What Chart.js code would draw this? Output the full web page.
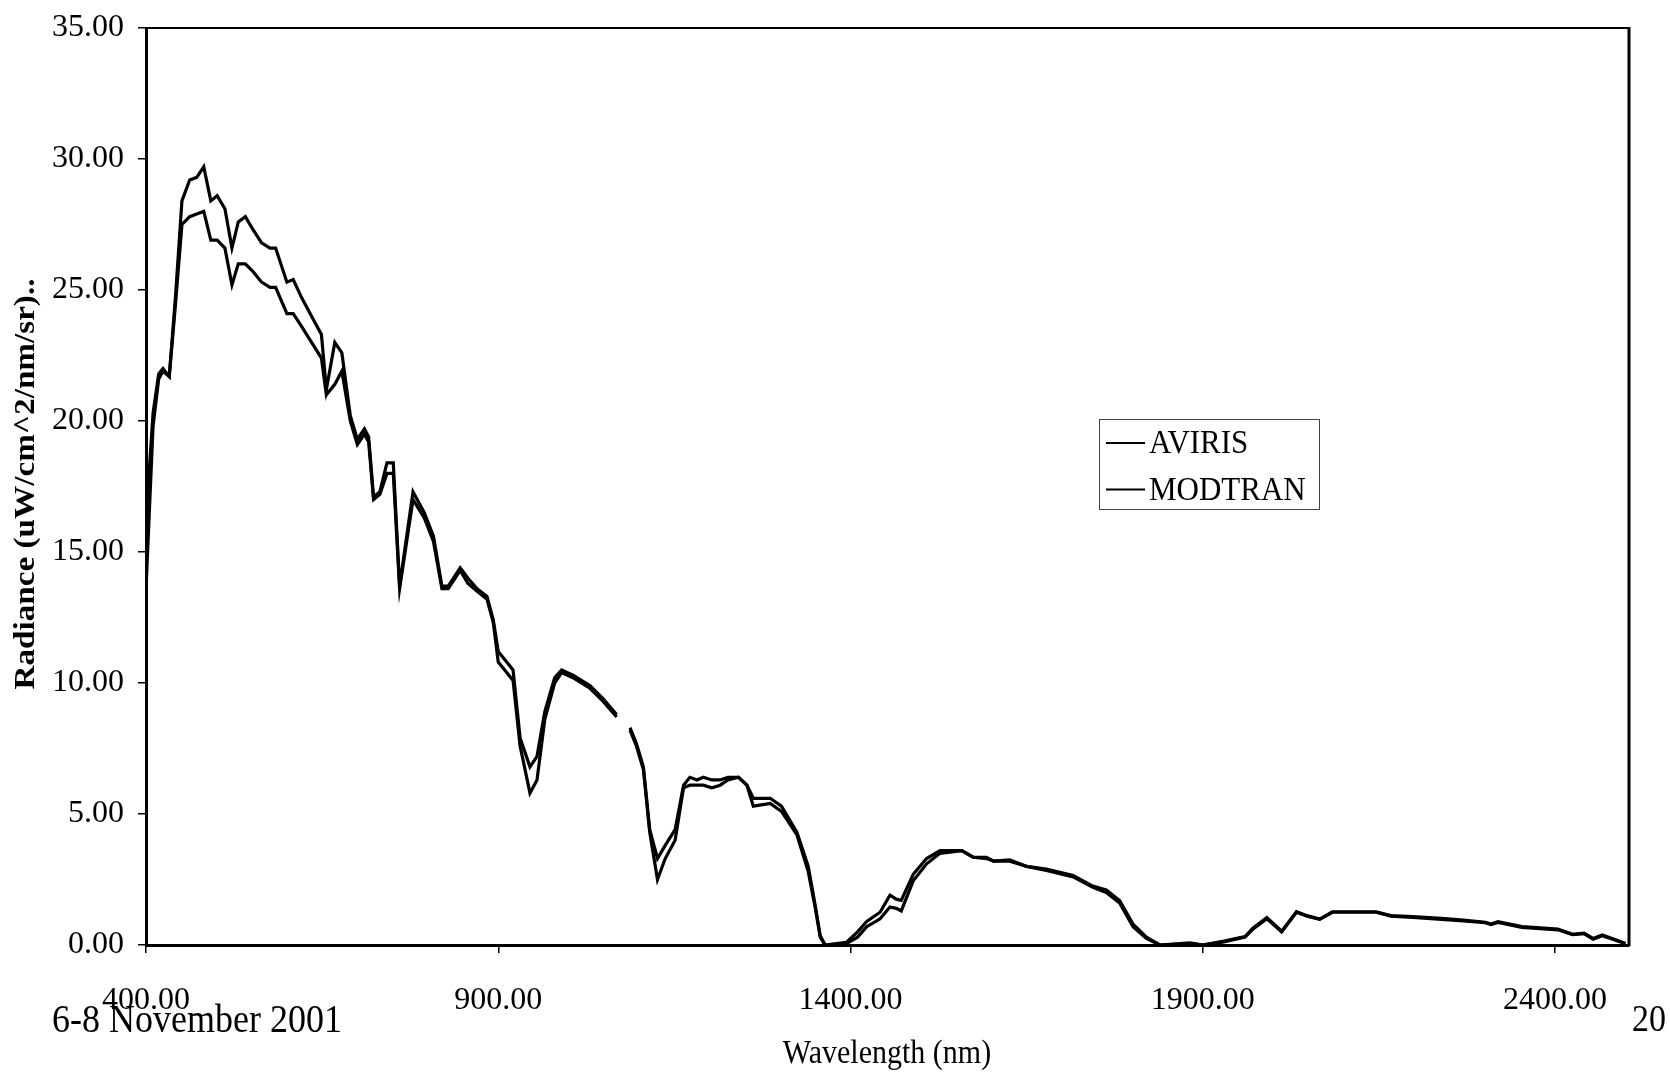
<!DOCTYPE html>
<html>
<head>
<meta charset="utf-8">
<script src="https://cdn.jsdelivr.net/npm/chart.js@4.4.1/dist/chart.umd.min.js"></script>
<style>
  html, body { margin: 0; padding: 0; background: #fff; }
  #wrap { width: 1670px; height: 1073px; position: relative; }
  canvas { display: block; }
</style>
</head>
<body>
<div id="wrap"><canvas id="chart" width="1670" height="1073"></canvas></div>
<script>
// Wavelength samples (nm) shared by both spectra
const wavelength = [400,410,418,424,433,442,451,462,472,482,492,501,512,522,531,541,552,564,576,584,600,609,621,635,649,656,668,678,690,700,710,716,723,732,742,751,760,779,795,808,820,829,846,857,870,884,893,900,912,921,931,945,955,966,980,990,1006,1030,1049,1068,1078,1087,1096,1106,1115,1126,1137,1151,1163,1172,1182,1191,1203,1215,1226,1241,1253,1262,1286,1302,1324,1340,1350,1357,1364,1380,1394,1410,1423,1442,1456,1465,1472,1489,1508,1527,1558,1574,1593,1603,1626,1650,1678,1716,1744,1763,1782,1801,1820,1839,1882,1900,1930,1960,1971,1991,2012,2033,2048,2066,2084,2146,2167,2198,2239,2270,2301,2309,2319,2353,2404,2425,2441,2454,2467,2487,2500];

// Radiance, uW/cm^2/nm/sr (null = no data)
const aviris = [16.2,20.3,21.8,22.0,21.7,24.8,28.4,29.2,29.3,29.7,28.4,28.6,28.1,26.6,27.6,27.8,27.3,26.8,26.6,26.6,25.3,25.4,24.7,24.0,23.3,21.2,23.0,22.6,20.2,19.3,19.7,19.4,17.1,17.3,18.4,18.4,13.7,17.3,16.5,15.6,13.7,13.7,14.4,14.0,13.6,13.3,12.4,11.2,10.8,10.5,7.9,6.8,7.2,8.9,10.2,10.5,10.3,9.9,9.4,8.8,null,8.3,7.7,6.8,4.4,3.3,3.8,4.4,6.1,6.4,6.3,6.4,6.3,6.3,6.4,6.4,6.1,5.6,5.6,5.3,4.3,3.0,1.5,0.35,0.0,0.05,0.1,0.5,0.9,1.25,1.9,1.75,1.7,2.7,3.3,3.6,3.6,3.35,3.35,3.2,3.25,3.0,2.9,2.65,2.25,2.1,1.7,0.8,0.3,0.0,0.08,0.0,0.15,0.32,0.64,1.05,0.53,1.27,1.12,0.99,1.27,1.27,1.12,1.08,1.02,0.95,0.87,0.8,0.89,0.7,0.61,0.41,0.45,0.25,0.38,0.19,0.06];

const modtran = [13.6,19.8,21.6,21.9,21.7,24.5,27.5,27.8,27.9,28.0,26.9,26.9,26.6,25.2,26.0,26.0,25.7,25.3,25.1,25.1,24.1,24.1,23.6,23.0,22.4,21.0,21.4,21.9,20.0,19.1,19.5,19.2,17.0,17.2,18.0,18.0,13.6,17.0,16.3,15.4,13.6,13.6,14.3,13.8,13.5,13.2,12.3,10.8,10.4,10.1,7.6,5.8,6.3,8.6,10.0,10.4,10.2,9.8,9.3,8.7,null,8.2,7.6,6.7,4.3,2.5,3.3,4.0,6.0,6.1,6.1,6.1,6.0,6.1,6.3,6.4,6.1,5.3,5.4,5.1,4.2,2.8,1.4,0.3,0.0,0.0,0.05,0.3,0.7,1.0,1.45,1.4,1.3,2.45,3.1,3.5,3.6,3.35,3.3,3.2,3.2,3.0,2.85,2.6,2.2,2.0,1.6,0.7,0.25,0.0,0.05,0.0,0.12,0.3,0.6,1.0,0.5,1.25,1.1,0.98,1.25,1.25,1.1,1.05,0.98,0.92,0.85,0.78,0.86,0.67,0.58,0.4,0.43,0.22,0.35,0.17,0.05];

const seriesNames = ['AVIRIS', 'MODTRAN'];
const xTickValues = [400, 900, 1400, 1900, 2400];
const yTickValues = [0, 5, 10, 15, 20, 25, 30, 35];

const yTitle = 'Radiance (uW/cm^2/nm/sr)..';
const xTitle = 'Wavelength (nm)';
const dateNote = '6-8 November 2001';
const pageNote = '20';

const SERIF = '"Liberation Serif", "Times New Roman", serif';
// The printed figure uses a slightly tall, narrow type
const TALL = 1.12;

function toPoints(values) {
  return wavelength.map((w, i) => ({ x: w, y: values[i] }));
}

function tallText(ctx, text, x, y, font, align) {
  ctx.save();
  ctx.font = font;
  ctx.textAlign = align;
  ctx.textBaseline = 'middle';
  ctx.translate(x, y);
  ctx.scale(1, TALL);
  ctx.fillText(text, 0, 0);
  ctx.restore();
}

// Stretch tick label glyphs vertically while the scale draws them
const tallTicks = {
  id: 'tallTicks',
  afterInit(chart) {
    Object.values(chart.scales).forEach(scale => {
      const draw = scale.drawLabels;
      scale.drawLabels = function (area) {
        const ctx = this.ctx;
        const translate = ctx.translate;
        ctx.translate = function (x, y) { translate.call(this, x, y); this.scale(1, TALL); };
        try { draw.call(this, area); } finally { ctx.translate = translate; }
      };
    });
  }
};

// Frame, axis titles and footer notes
const decorations = {
  id: 'decorations',
  afterDraw(chart) {
    const ctx = chart.ctx;
    const a = chart.chartArea;
    ctx.save();
    ctx.strokeStyle = '#000';
    ctx.lineWidth = 2;
    ctx.beginPath();
    ctx.moveTo(a.left, a.top);
    ctx.lineTo(a.right, a.top);
    ctx.stroke();
    ctx.lineWidth = 3;
    ctx.beginPath();
    ctx.moveTo(a.right, a.top - 1);
    ctx.lineTo(a.right, a.bottom + 1);
    ctx.stroke();

    ctx.fillStyle = '#000';
    // vertical axis title, elongated along its length
    ctx.save();
    ctx.translate(26, 484);
    ctx.rotate(-Math.PI / 2);
    ctx.font = 'bold 30px ' + SERIF;
    const w = ctx.measureText(yTitle).width;
    ctx.scale(411 / w, 1);
    ctx.textAlign = 'center';
    ctx.textBaseline = 'middle';
    ctx.fillText(yTitle, 0, 0);
    ctx.restore();

    tallText(ctx, xTitle, 887, 1054, '30px ' + SERIF, 'center');
    tallText(ctx, dateNote, 52, 1021, '36px ' + SERIF, 'left');
    tallText(ctx, pageNote, 1632, 1021, '34px ' + SERIF, 'left');
    ctx.restore();
  }
};

// Boxed legend inside the plot
const boxLegend = {
  id: 'boxLegend',
  afterDraw(chart) {
    const ctx = chart.ctx;
    ctx.save();
    ctx.strokeStyle = '#444';
    ctx.lineWidth = 1;
    ctx.strokeRect(1099.5, 419.5, 220, 90);
    chart.data.datasets.forEach((ds, i) => {
      const y = 443 + i * 46.5;
      ctx.strokeStyle = ds.borderColor;
      ctx.lineWidth = 2;
      ctx.beginPath();
      ctx.moveTo(1106, y);
      ctx.lineTo(1145, y);
      ctx.stroke();
      ctx.fillStyle = '#000';
      tallText(ctx, ds.label, 1149, y + 1, '31px ' + SERIF, 'left');
    });
    ctx.restore();
  }
};

new Chart(document.getElementById('chart'), {
  type: 'line',
  data: {
    datasets: [
      { label: seriesNames[0], data: toPoints(aviris), borderColor: '#000', borderWidth: 3.2, pointRadius: 0, tension: 0, spanGaps: false, fill: false },
      { label: seriesNames[1], data: toPoints(modtran), borderColor: '#000', borderWidth: 3.2, pointRadius: 0, tension: 0, spanGaps: false, fill: false }
    ]
  },
  options: {
    responsive: false,
    animation: false,
    devicePixelRatio: 1,
    layout: { padding: { top: 28, right: 41, left: 0, bottom: 0 } },
    plugins: { legend: { display: false }, tooltip: { enabled: false } },
    scales: {
      x: {
        type: 'linear',
        min: 400,
        max: 2505,
        afterFit(scale) { scale.height = 128; },
        afterBuildTicks(scale) { scale.ticks = xTickValues.map(v => ({ value: v })); },
        grid: { display: true, drawOnChartArea: false, drawTicks: true, tickLength: 8, color: '#000', lineWidth: 1.5 },
        border: { display: true, color: '#000', width: 3 },
        ticks: {
          color: '#000',
          font: { family: SERIF, size: 32 },
          padding: 28,
          maxRotation: 0,
          autoSkip: false,
          callback: v => Number(v).toFixed(2)
        }
      },
      y: {
        min: 0,
        max: 35,
        afterFit(scale) {
          scale.width = 146;
          scale.paddingTop = 0;
          scale.paddingBottom = 0;
        },
        afterBuildTicks(scale) { scale.ticks = yTickValues.map(v => ({ value: v })); },
        grid: { display: true, drawOnChartArea: false, drawTicks: true, tickLength: 8, color: '#000', lineWidth: 1.5 },
        border: { display: true, color: '#000', width: 3 },
        ticks: {
          color: '#000',
          font: { family: SERIF, size: 32 },
          padding: 14,
          callback: v => Number(v).toFixed(2)
        }
      }
    }
  },
  plugins: [tallTicks, decorations, boxLegend]
});
</script>
</body>
</html>
